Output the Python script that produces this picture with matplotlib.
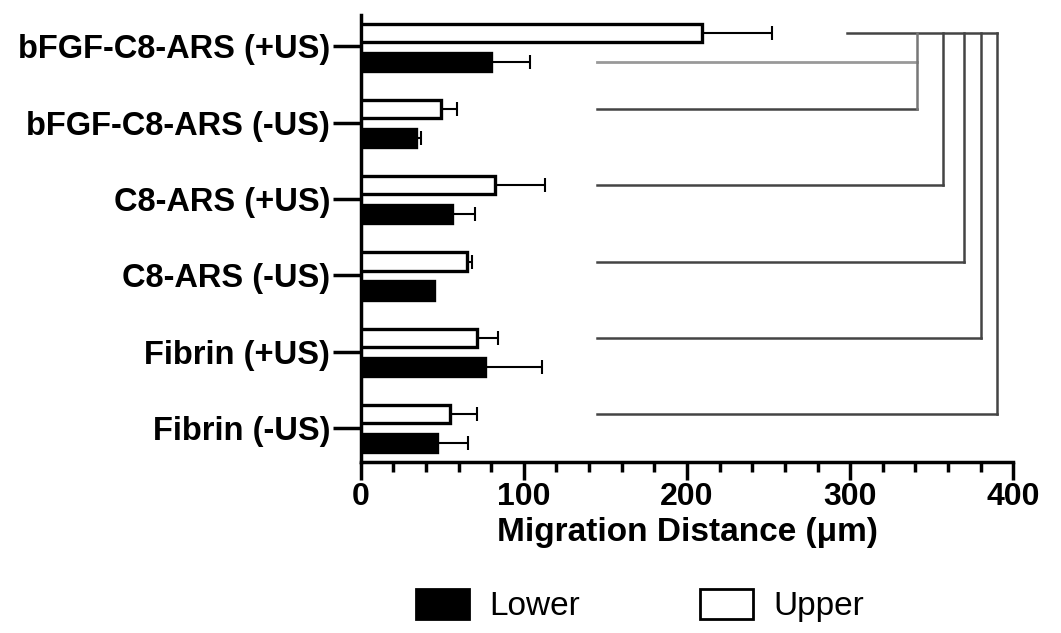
import numpy as np
import matplotlib.pyplot as plt
from matplotlib.patches import Patch
from matplotlib.ticker import MultipleLocator

plt.rcParams['font.family'] = ['Liberation Sans', 'DejaVu Sans']

groups = ['bFGF-C8-ARS (+US)', 'bFGF-C8-ARS (-US)', 'C8-ARS (+US)',
          'C8-ARS (-US)', 'Fibrin (+US)', 'Fibrin (-US)']
upper = [209, 49, 82, 65, 71, 55]
upper_err = [43, 10, 31, 3, 13, 16]
lower = [80, 34, 56, 45, 76, 47]
lower_err = [24, 3, 14, 0, 35, 19]

# significance brackets: (x of vertical line, group index, which bar)
bracket_x = [341, 357, 370, 380, 390]
bracket_to = [(1, 'u'), (2, 'u'), (3, 'u'), (4, 'u'), (5, 'u')]
bracket_top_start = 298
bracket_line_start = 145

y = np.arange(len(groups))
h = 0.24
off_u = -0.18
off_l = 0.2

fig = plt.figure(figsize=(10.61, 6.33), dpi=100)
ax = fig.add_axes([0.340, 0.270, 0.615, 0.706])

ax.barh(y + off_u, upper, height=h, color='white', edgecolor='black', linewidth=2.4, zorder=3)
ax.barh(y + off_l, lower, height=h, color='black', edgecolor='black', linewidth=2.4, zorder=3)
ax.errorbar(upper, y + off_u, xerr=[np.zeros(len(upper)), upper_err], fmt='none',
            ecolor='black', elinewidth=1.5, capsize=5, capthick=1.5, zorder=2)
ax.errorbar(lower, y + off_l, xerr=[np.zeros(len(lower)), lower_err], fmt='none',
            ecolor='black', elinewidth=1.5, capsize=5, capthick=1.5, zorder=2)

# brackets
top_y = y[0] + off_u
ax.plot([bracket_top_start, bracket_x[-1]], [top_y, top_y], color='#444444', lw=1.8, zorder=1)
ax.plot([bracket_line_start, bracket_x[0]], [y[0] + off_l, y[0] + off_l], color='#999999', lw=2, zorder=1)
for bx, (gi, which) in zip(bracket_x, bracket_to):
    yy = y[gi] + (off_u if which == 'u' else off_l)
    ax.plot([bracket_line_start, bx], [yy, yy], color='#444444', lw=1.8, zorder=1)
    ax.plot([bx, bx], [top_y, yy], color='#777777' if bx == bracket_x[0] else '#444444', lw=1.8, zorder=1)

ax.set_xlim(0, 400)
ax.set_ylim(len(groups) - 1 + 0.45, -0.41)
ax.set_yticks(y)
ax.set_yticklabels(groups, fontsize=23.5, fontweight='bold')
ax.xaxis.set_major_locator(MultipleLocator(100))
ax.xaxis.set_minor_locator(MultipleLocator(20))
ax.tick_params(axis='x', which='major', length=13, width=2.5, labelsize=23, pad=1)
ax.tick_params(axis='x', which='minor', length=7, width=2.5)
ax.tick_params(axis='y', length=20, width=2.5, pad=2)
for lab in ax.get_xticklabels():
    lab.set_fontweight('bold')
ax.set_xlabel('Migration Distance (\u03bcm)', fontsize=24, fontweight='bold', labelpad=4)

ax.spines['top'].set_visible(False)
ax.spines['right'].set_visible(False)
ax.spines['left'].set_linewidth(2.5)
ax.spines['bottom'].set_linewidth(2.5)

handles = [Patch(facecolor='black', edgecolor='black', linewidth=2, label='Lower'),
           Patch(facecolor='white', edgecolor='black', linewidth=2, label='Upper')]
fig.legend(handles=handles, loc='center', bbox_to_anchor=(0.603, 0.043), ncol=2, frameon=False,
           fontsize=24, handlelength=1.6, handleheight=1.0, columnspacing=3.6, handletextpad=0.6)

fig.savefig('out.png', dpi=100)
